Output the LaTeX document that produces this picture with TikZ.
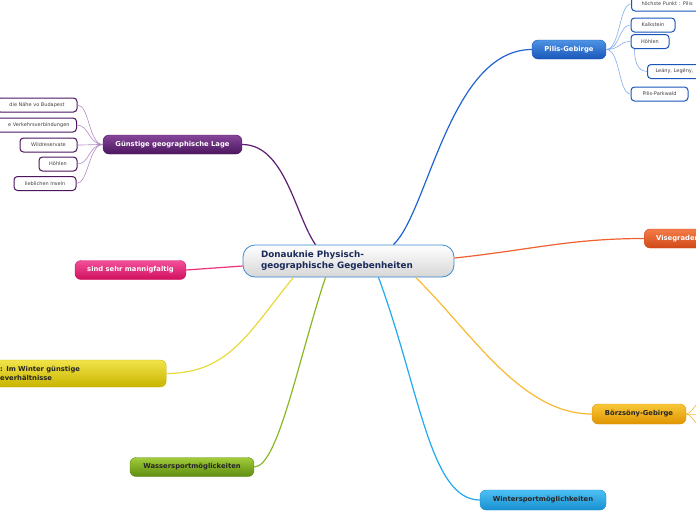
\documentclass[tikz,border=0pt]{standalone}
\usepackage{fontspec}
\setmainfont{DejaVu Sans}
\begin{document}
\begin{tikzpicture}[x=1pt,y=-1pt]
\definecolor{navy}{HTML}{1A2A5A}
\definecolor{cborder}{HTML}{3A8AD0}
\definecolor{pilisT}{HTML}{4E94E4}\definecolor{pilisB}{HTML}{1A56BA}\definecolor{pilisL}{HTML}{2064D4}\definecolor{pilisS}{HTML}{86AEEA}
\definecolor{purT}{HTML}{86469A}\definecolor{purB}{HTML}{4C165E}\definecolor{purL}{HTML}{5C1E70}\definecolor{purS}{HTML}{B48CC4}
\definecolor{visT}{HTML}{F47C48}\definecolor{visB}{HTML}{D04818}\definecolor{visL}{HTML}{F06030}
\definecolor{pinkT}{HTML}{F2509A}\definecolor{pinkB}{HTML}{D0105E}\definecolor{pinkL}{HTML}{F0307A}
\definecolor{yelT}{HTML}{F2E44A}\definecolor{yelB}{HTML}{C8B400}\definecolor{yelL}{HTML}{E8DA3A}
\definecolor{grnT}{HTML}{A2CC3A}\definecolor{grnB}{HTML}{5E8C10}\definecolor{grnL}{HTML}{8AB822}
\definecolor{lbT}{HTML}{4CC0F4}\definecolor{lbB}{HTML}{1890D0}\definecolor{lbL}{HTML}{22AAF0}
\definecolor{orT}{HTML}{F8C83A}\definecolor{orB}{HTML}{E09400}\definecolor{orL}{HTML}{F8BA30}
\tikzset{
  central/.style={draw=cborder, line width=0.8pt, rounded corners=12pt, top color=white, bottom color=black!16,
    minimum width=211pt, minimum height=32pt, text width=175pt, align=left, inner xsep=18pt, inner ysep=0pt,
    font=\fontsize{8.8}{11}\selectfont\bfseries, text=navy},
  lvl/.style={rounded corners=6pt, minimum height=19pt, inner sep=0pt, line width=0.4pt,
    font=\fontsize{6.8}{8.5}\selectfont\bfseries},
  sub/.style={draw, rounded corners=3.5pt, fill=white, line width=1pt, minimum height=14pt, inner sep=0pt,
    font=\fontsize{5}{5.5}\selectfont, text=black!75},
  conn/.style={line width=1.2pt},
  subconn/.style={line width=0.6pt},
}
\fill[white] (0,0) rectangle (696,520);
\useasboundingbox (0,0) rectangle (696,520);

% central
\node[central] (c) at (348.5,261) {Donauknie Physisch-\\geographische Gegebenheiten};

% level 1
\node[lvl, draw=pilisB, top color=pilisT, bottom color=pilisB, text=white, minimum width=74pt] (pilis) at (569,49.5) {Pilis-Gebirge};
\node[lvl, draw=purB, top color=purT, bottom color=purB, text=white, minimum width=139pt] (g) at (172.5,144.5) {Günstige geographische Lage};
\node[lvl, draw=visB, top color=visT, bottom color=visB, text=white, text width=72pt, align=left, inner xsep=12pt, anchor=west] (vis) at (644,238.5) {Visegrader};
\node[lvl, draw=pinkB, top color=pinkT, bottom color=pinkB, text=white, minimum width=111pt] (sind) at (130.5,270) {sind sehr mannigfaltig};
\node[lvl, draw=yelB, top color=yelT, bottom color=yelB, text=black!85, minimum height=27pt, text width=146pt, align=left, inner xsep=20pt, anchor=west] (yel) at (-20,373.5) {: Im Winter günstige\\everhältnisse};
\node[lvl, draw=grnB, top color=grnT, bottom color=grnB, text=black!85, minimum width=124pt] (wass) at (192,467) {Wassersportmöglickeiten};
\node[lvl, draw=lbB, top color=lbT, bottom color=lbB, text=black!85, minimum width=126pt, minimum height=20pt] (wint) at (543,500) {Wintersportmöglichkeiten};
\node[lvl, draw=orB, top color=orT, bottom color=orB, text=black!85, minimum width=94pt, minimum height=20pt] (borz) at (639,414) {Börzsöny-Gebirge};

% Pilis children
\node[sub, draw=pilisB, text width=80pt, align=left, inner xsep=10pt, anchor=west] (p1) at (631,4) {höchste Punkt : Pilis};
\node[sub, draw=pilisB, minimum width=44pt] (p2) at (653,25) {Kalkstein};
\node[sub, draw=pilisB, minimum width=38pt] (p3) at (650,41.5) {Höhlen};
\node[sub, draw=pilisB, text width=60pt, align=left, inner xsep=8pt, anchor=west] (p4) at (647,71.5) {Leány, Legény,};
\node[sub, draw=pilisB, minimum width=57pt] (p5) at (659.5,94) {Pilis-Parkwald};

% Günstige children
\node[sub, draw=purB, minimum width=80pt] (g1) at (37,105) {die Nähe vo Budapest};
\node[sub, draw=purB, text width=80pt, align=right, inner xsep=7pt, anchor=east] (g2) at (77,125) {e Verkehrsverbindungen};
\node[sub, draw=purB, minimum width=57pt] (g3) at (48.5,145) {Wildreservate};
\node[sub, draw=purB, minimum width=38pt] (g4) at (58,164) {Höhlen};
\node[sub, draw=purB, minimum width=62pt] (g5) at (45,183.5) {lieblichen Inseln};

% Börzsöny children (off page)
\coordinate (b1) at (706,398);
\coordinate (b2) at (706,414);
\coordinate (b3) at (706,430);

% main connectors
\draw[conn, pilisL] ([xshift=45pt]c.north) .. controls (428,212) and (450,49.5) .. (pilis.west);
\draw[conn, purL] (g.east) .. controls (285,144.5) and (295,215) .. ([xshift=-33pt]c.north);
\draw[conn, visL] ([yshift=3pt]c.east) .. controls (530,250) and (570,238.5) .. (vis.west);
\draw[conn, pinkL] ([yshift=-5pt]c.west) .. controls (215,268) .. (sind.east);
\draw[conn, yelL] ([xshift=-55pt]c.south) .. controls (250,330) and (230,373.5) .. (yel.east);
\draw[conn, grnL] ([xshift=-23pt]c.south) .. controls (298,360) and (278,467) .. (wass.east);
\draw[conn, lbL] ([xshift=30pt]c.south) .. controls (420,390) and (430,500) .. (wint.west);
\draw[conn, orL] ([xshift=67pt]c.south) .. controls (470,330) and (520,414) .. (borz.west);

% sub connectors
\foreach \n in {p1,p2,p3,p5}
  \draw[subconn, pilisS] (pilis.east) .. controls +(14,0) and +(-12,0) .. (\n.west);
\draw[subconn, pilisS] ([xshift=4pt]p3.south west) .. controls +(0,18) and +(-6,0) .. (p4.west);
\foreach \n in {g1,g2,g3,g4,g5}
  \draw[subconn, purS] (g.west) .. controls +(-14,0) and +(12,0) .. (\n.east);
\foreach \n in {b1,b2,b3}
  \draw[subconn, orL] (borz.east) .. controls +(6,0) and +(-8,0) .. (\n);
\end{tikzpicture}
\end{document}
